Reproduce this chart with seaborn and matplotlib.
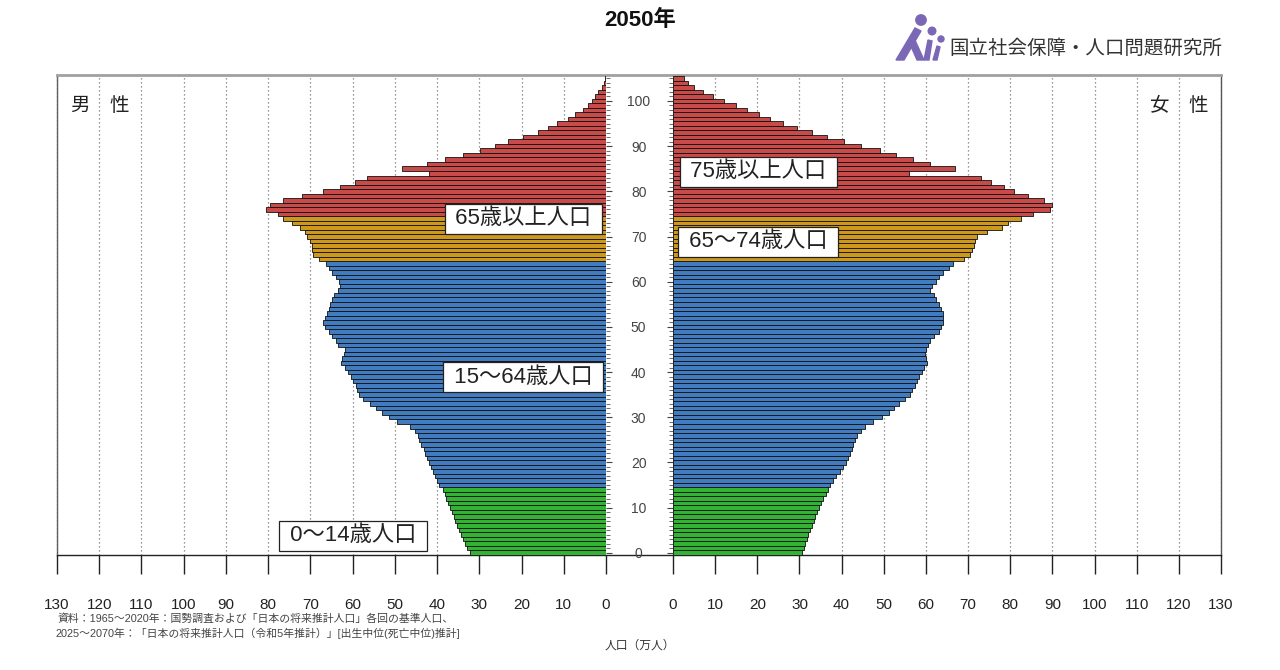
import numpy as np
import pandas as pd
import matplotlib
matplotlib.use("Agg")
import matplotlib.pyplot as plt
import seaborn as sns
from matplotlib.patches import Circle, Polygon

# ---------------- data (万人) ----------------
ages = list(range(0, 106))
male = [
    32.3, 32.8, 33.3, 33.8, 34.3, 34.8, 35.3, 35.7, 36.1, 36.5, 37.0, 37.4, 37.8, 38.2, 38.6,
    39.5, 40.0, 40.4, 40.9, 41.4, 41.9, 42.3, 42.8, 43.2, 43.7,
    44.2, 44.6, 45.2, 46.5, 49.5, 51.3, 53.0, 54.5, 56.0, 57.5,
    58.5, 59.0, 59.3, 59.8, 60.5, 61.2, 61.8, 62.8, 62.6, 62.0,
    61.8, 63.5, 64.0, 64.8, 65.5, 66.5, 67.0, 66.5, 66.0, 65.5,
    65.3, 65.0, 64.5, 63.5, 63.0, 63.3, 64.0, 65.0, 65.5, 66.2,
    68.0, 69.3, 69.7, 69.7, 70.2, 70.9, 71.3, 72.5, 74.4, 76.4,
    77.6, 80.5, 79.6, 76.4, 72.0, 67.0, 63.0, 59.5, 56.7, 41.8,
    48.4, 42.5, 38.1, 33.8, 29.8, 26.3, 23.1, 19.6, 16.0, 13.7,
    11.7, 8.9, 7.3, 5.4, 4.2, 3.4, 2.6, 1.8, 1.0, 0.5, 0.3,
]
female = [
    30.5, 31.0, 31.4, 31.8, 32.1, 32.5, 33.0, 33.4, 33.8, 34.2, 34.7, 35.2, 35.7, 36.2, 36.7,
    37.3, 38.0, 38.7, 39.5, 40.3, 41.0, 41.5, 42.0, 42.4, 42.8,
    43.2, 43.7, 44.5, 45.6, 47.5, 49.5, 51.3, 52.5, 53.5, 55.0,
    56.2, 56.8, 57.3, 57.8, 58.4, 59.0, 59.5, 60.2, 60.0, 59.8,
    60.0, 60.5, 61.0, 62.0, 63.0, 63.5, 64.0, 64.1, 64.0, 63.6,
    63.2, 62.5, 61.8, 61.0, 61.5, 62.3, 63.0, 64.0, 65.5, 66.5,
    69.0, 70.5, 71.0, 71.5, 71.6, 72.0, 74.5, 78.0, 79.5, 82.5,
    85.5, 89.5, 90.0, 88.0, 84.3, 81.0, 78.5, 75.5, 73.0, 56.0,
    67.0, 61.0, 57.0, 53.0, 49.0, 44.5, 40.5, 36.5, 33.0, 29.5,
    26.0, 23.0, 20.5, 17.5, 15.0, 12.0, 9.5, 7.0, 5.0, 3.5, 2.5,
]
group_names = ["0〜14歳", "15〜64歳", "65〜74歳", "75歳以上"]
group_bins = [-1, 14, 64, 74, 200]
group_colors = ["#1ec81e", "#2b7bd4", "#eba400", "#df3633"]
x_ticks = list(range(0, 131, 10))
age_ticks = list(range(0, 101, 10))

df = pd.DataFrame({"age": ages, "male": male, "female": female})
df["group"] = pd.cut(df["age"], bins=group_bins, labels=group_names)
palette = dict(zip(group_names, group_colors))

# ---------------- style ----------------
sns.set_theme(style="white")
plt.rcParams["font.family"] = ["Liberation Sans", "Noto Sans CJK JP", "DejaVu Sans"]

W, H = 1280, 670
fig = plt.figure(figsize=(W / 100, H / 100), dpi=100)
fig.patch.set_facecolor("white")


def rect(x0, y0, x1, y1):
    return [x0 / W, 1 - y1 / H, (x1 - x0) / W, (y1 - y0) / H]


def ftext(x, y, s, **kw):
    return fig.text(x / W, 1 - y / H, s, **kw)


# background frame
bg = fig.add_axes(rect(57, 75, 1221, 555))
bg.set_xticks([])
bg.set_yticks([])
bg.set_facecolor("white")
bg.spines["top"].set_color("#a0a0a0")
bg.spines["top"].set_linewidth(2.0)
for s in ["left", "right"]:
    bg.spines[s].set_color("#555555")
    bg.spines[s].set_linewidth(1.0)
bg.spines["bottom"].set_color("#222222")
bg.spines["bottom"].set_linewidth(1.0)

axm = fig.add_axes(rect(57, 75, 606, 555))
axf = fig.add_axes(rect(673, 75, 1221, 555))

for ax, col in [(axm, "male"), (axf, "female")]:
    ax.patch.set_alpha(0)
    sns.barplot(data=df, y="age", x=col, hue="group", palette=palette,
                hue_order=group_names, orient="y", native_scale=True,
                width=1.0, dodge=False, errorbar=None, edgecolor="#111111",
                linewidth=0.6, legend=False, ax=ax)
    ax.set_ylim(-0.5, 105.75)
    ax.set_xticks(x_ticks)
    ax.set_xticklabels([str(v) for v in x_ticks])
    ax.set_axisbelow(True)
    ax.grid(axis="x", linestyle=(0, (1, 2.2)), color="#777777", linewidth=0.9)
    ax.grid(axis="y", visible=False)
    ax.set_xlabel("")
    ax.set_ylabel("")
    for s in ax.spines.values():
        s.set_visible(False)
    ax.tick_params(axis="x", bottom=True, direction="out", length=14, width=1.0,
                   color="#222222", pad=17, labelsize=11, labelcolor="#222222")
    ax.set_yticks(age_ticks)
    ax.set_yticks(ages, minor=True)

axm.set_xlim(130, 0)
axf.set_xlim(0, 130)

axm.yaxis.tick_right()
axm.set_yticklabels([str(a) for a in age_ticks])
axm.tick_params(axis="y", which="major", right=True, left=False, direction="out",
                length=4.5, width=0.8, color="#444444", pad=19, labelsize=10,
                labelcolor="#444444")
axm.tick_params(axis="y", which="minor", right=True, left=False, direction="out",
                length=3, width=0.6, color="#555555")
for lab in axm.get_yticklabels():
    lab.set_horizontalalignment("center")

axf.set_yticklabels([])
axf.tick_params(axis="y", which="major", left=True, right=False, direction="out",
                length=4.5, width=0.8, color="#444444", labelleft=False)
axf.tick_params(axis="y", which="minor", left=True, right=False, direction="out",
                length=3, width=0.6, color="#555555")

# group labels
box = dict(boxstyle="square,pad=0.2", fc="white", ec="#222222", lw=0.9)
lab_kw = dict(ha="center", va="center", fontsize=16, color="#222222", bbox=box, zorder=6)
axm.text(19.6, 73.9, " 65歳以上人口 ", **lab_kw)
axm.text(19.6, 38.9, " 15〜64歳人口 ", **lab_kw)
axm.text(59.9, 3.8, " 0〜14歳人口 ", **lab_kw)
axf.text(20.2, 84.3, " 75歳以上人口 ", **lab_kw)
axf.text(20.2, 68.8, " 65〜74歳人口 ", **lab_kw)

# sex labels
ftext(100, 106, "男\u3000性", ha="center", va="center", fontsize=14, color="#222222")
ftext(1179, 106, "女\u3000性", ha="center", va="center", fontsize=14, color="#222222")

# title
ftext(640, 20, "2050年", ha="center", va="center", fontsize=16, fontweight="bold",
      color="#111111")

# logo
ftext(1086, 49, "国立社会保障・人口問題研究所", ha="center", va="center", fontsize=14,
      color="#333333")
lg = fig.add_axes(rect(890, 10, 950, 65))
lg.set_xlim(890, 950)
lg.set_ylim(65, 10)
lg.axis("off")
purple = "#7a68b6"
lg.add_patch(Circle((921, 20), 5.2, color=purple))
lg.add_patch(Polygon([(896, 60), (904, 60), (921, 31), (915, 28)], color=purple))
lg.add_patch(Polygon([(910, 44), (914, 38), (924, 60), (917, 60)], color=purple))
lg.add_patch(Circle((932, 31), 3.8, color=purple))
lg.add_patch(Polygon([(924, 60), (929, 60), (932, 41), (928, 40)], color=purple))
lg.add_patch(Circle((941, 39), 3.0, color=purple))
lg.add_patch(Polygon([(933, 60), (937, 60), (940, 47), (937, 46)], color=purple))

# notes
ftext(58, 619, "資料：1965～2020年：国勢調査および「日本の将来推計人口」各回の基準人口、",
      ha="left", va="center", fontsize=7.8, color="#444444")
ftext(56, 633, "2025～2070年：「日本の将来推計人口（令和5年推計）」[出生中位(死亡中位)推計]",
      ha="left", va="center", fontsize=7.8, color="#444444")
ftext(640, 646, "人口（万人）", ha="center", va="center", fontsize=8.5, color="#333333")

fig.savefig("out.png", dpi=100, facecolor="white")
